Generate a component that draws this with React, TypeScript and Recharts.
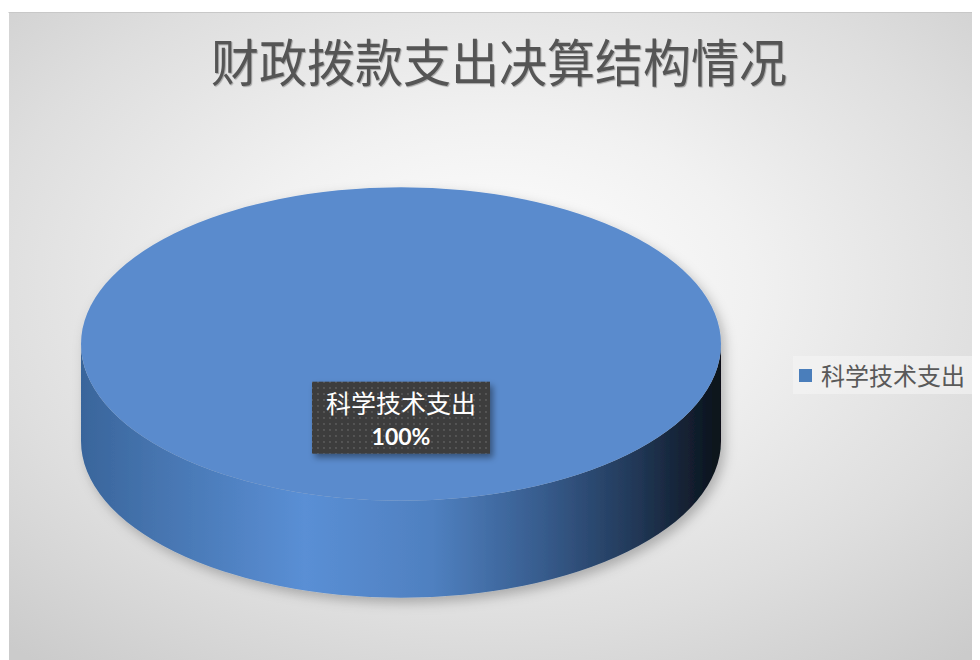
import React from "react";
import { PieChart, Pie, Cell, Legend } from "recharts";

const CATEGORIES = ["科学技术支出"];
const VALUES = [100];
const COLORS = ["#5a8bcd"];
const TITLE = "财政拨款支出决算结构情况";

const data = CATEGORIES.map((name, i) => ({ name, value: VALUES[i] }));

const TILT = 0.49; // ry / rx of the top face
const DEPTH = 97;  // extrusion height
const RAD = Math.PI / 180;

function pt(cx: number, cy: number, r: number, deg: number) {
  return [cx + r * Math.cos(deg * RAD), cy - r * TILT * Math.sin(deg * RAD)];
}

function Slice3D(props: any) {
  const { cx, cy, outerRadius: r, startAngle, endAngle, fill } = props;
  const rx = r;
  const ry = r * TILT;
  const full = Math.abs(endAngle - startAngle) >= 359.99;

  let top: React.ReactNode;
  if (full) {
    top = <ellipse cx={cx} cy={cy} rx={rx} ry={ry} fill={fill} />;
  } else {
    const [x1, y1] = pt(cx, cy, r, startAngle);
    const [x2, y2] = pt(cx, cy, r, endAngle);
    const large = Math.abs(endAngle - startAngle) > 180 ? 1 : 0;
    top = (
      <path
        d={`M${cx},${cy} L${x1},${y1} A${rx},${ry} 0 ${large} 0 ${x2},${y2} Z`}
        fill={fill}
      />
    );
  }

  // front side only: angles between 180 and 360
  const lo = Math.max(Math.min(startAngle, endAngle), 180);
  const hi = Math.min(Math.max(startAngle, endAngle), 360);
  let side: React.ReactNode = null;
  if (hi > lo) {
    const [a1, b1] = pt(cx, cy, r, lo);
    const [a2, b2] = pt(cx, cy, r, hi);
    side = (
      <path
        d={`M${a1},${b1} A${rx},${ry} 0 0 0 ${a2},${b2} L${a2},${b2 + DEPTH} A${rx},${ry} 0 0 1 ${a1},${b1 + DEPTH} Z`}
        fill="url(#sideGrad)"
      />
    );
  }

  return (
    <g filter="url(#pieShadow)">
      {side}
      {top}
    </g>
  );
}

function DataLabel(props: any) {
  const { cx, cy, outerRadius, name, percent } = props;
  const bx = cx;
  const by = cy + outerRadius * TILT * 0.47;
  const w = 178;
  const h = 72;
  return (
    <g>
      <rect x={bx - w / 2} y={by - h / 2} width={w} height={h} fill="url(#dots)" filter="url(#boxShadow)" />
      <text x={bx} y={by - 5} textAnchor="middle" fill="#ffffff" fontSize={25} fontFamily="'Noto Sans CJK SC', sans-serif">
        {name}
      </text>
      <text x={bx} y={by + 27} textAnchor="middle" fill="#ffffff" fontSize={23} fontWeight={700} fontFamily="Lato, 'Noto Sans', sans-serif">
        {`${Math.round(percent * 100)}%`}
      </text>
    </g>
  );
}

function LegendBox({ payload }: any) {
  return (
    <div>
      {(payload || []).map((p: any) => (
        <div
          key={p.value}
          style={{
            display: "flex",
            alignItems: "center",
            background: "rgba(245,245,245,0.6)",
            padding: "4px 6px",
            width: 175,
            height: 30,
          }}
        >
          <span style={{ width: 13, height: 13, background: "#4a7ebb", marginRight: 9, display: "inline-block" }} />
          <span style={{ fontSize: 24, color: "#595959", fontFamily: "'Noto Sans CJK SC', sans-serif", lineHeight: "30px" }}>
            {p.value}
          </span>
        </div>
      ))}
    </div>
  );
}

export default function App() {
  return (
    <div style={{ paddingTop: 4 }}>
      <div
        style={{
          position: "relative",
          width: 972,
          height: 648,
          borderTop: "1px solid #c8c8c8",
          borderLeft: "1px solid #ffffff",
          boxSizing: "border-box",
          background: "radial-gradient(ellipse 75% 75% at 50% 42%, #ffffff 0%, #f1f1f1 35%, #dedede 70%, #cbcbcb 100%)",
          overflow: "hidden",
        }}
      >
        <div
          style={{
            position: "absolute",
            left: 0,
            width: 980,
            top: 15,
            textAlign: "center",
            fontSize: 48,
            color: "#555555",
            fontFamily: "'Noto Sans CJK SC', sans-serif",
            textShadow: "1px 1px 1px rgba(0,0,0,0.3)",
            lineHeight: "64px",
            transform: "scaleY(1.06)",
          }}
        >
          {TITLE}
        </div>
        <PieChart width={972} height={648} margin={{ top: 0, right: 0, bottom: 0, left: 0 }}>
          <defs>
            <linearGradient id="sideGrad" x1="0" y1="0" x2="1" y2="0">
              <stop offset="0%" stopColor="#39659b" />
              <stop offset="10%" stopColor="#4472ac" />
              <stop offset="35%" stopColor="#5a8fd5" />
              <stop offset="55%" stopColor="#4f80c0" />
              <stop offset="72%" stopColor="#375c8d" />
              <stop offset="87%" stopColor="#213756" />
              <stop offset="100%" stopColor="#0a1119" />
            </linearGradient>
            <pattern id="dots" width="6" height="6" patternUnits="userSpaceOnUse">
              <rect width="6" height="6" fill="#3c3c3c" />
              <circle cx="3" cy="3" r="0.9" fill="#5e5e5e" />
            </pattern>
            <filter id="pieShadow" x="-10%" y="-10%" width="125%" height="130%">
              <feDropShadow dx="4" dy="5" stdDeviation="6" floodColor="#000" floodOpacity="0.25" />
            </filter>
            <filter id="boxShadow" x="-10%" y="-20%" width="125%" height="150%">
              <feDropShadow dx="3" dy="4" stdDeviation="3" floodColor="#000" floodOpacity="0.4" />
            </filter>
          </defs>
          <Pie
            data={data}
            dataKey="value"
            nameKey="name"
            cx={392}
            cy={331}
            outerRadius={320}
            startAngle={0}
            endAngle={360}
            stroke="none"
            shape={Slice3D}
            label={DataLabel}
            labelLine={false}
            isAnimationActive={false}
          >
            {data.map((d, i) => (
              <Cell key={d.name} fill={COLORS[i % COLORS.length]} />
            ))}
          </Pie>
          <Legend
            layout="vertical"
            align="right"
            verticalAlign="top"
            content={<LegendBox />}
            wrapperStyle={{ left: 784, top: 343, width: 190 }}
          />
        </PieChart>
      </div>
    </div>
  );
}
